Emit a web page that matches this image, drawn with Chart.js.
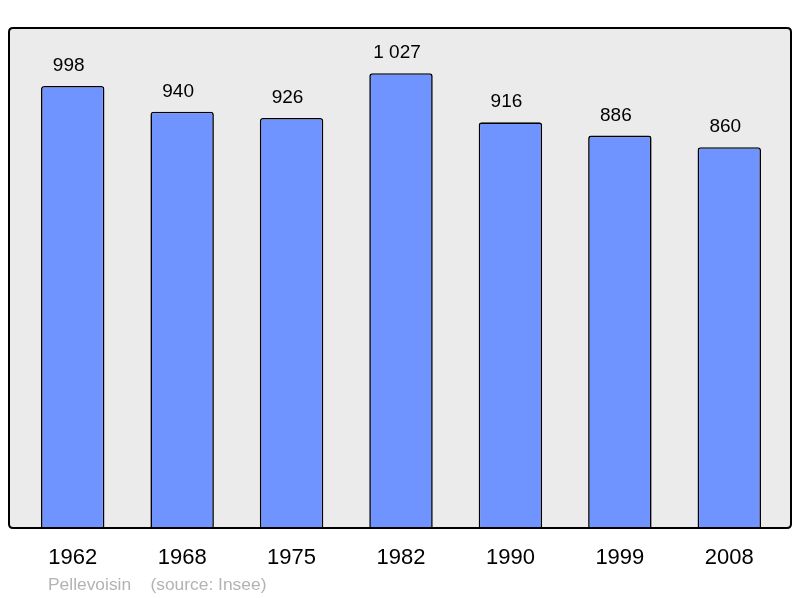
<!DOCTYPE html>
<html>
<head>
<meta charset="utf-8">
<title>Pellevoisin - population</title>
<script src="https://cdn.jsdelivr.net/npm/chart.js@4.4.1/dist/chart.umd.min.js"></script>
<style>
    html, body { margin: 0; padding: 0; background: #ffffff; }
    #wrap { width: 800px; height: 598px; position: relative; }
</style>
</head>
<body>
<div id="wrap"><canvas id="popChart"></canvas></div>
<script>
// Population data (source: Insee)
const years = ['1962', '1968', '1975', '1982', '1990', '1999', '2008'];
const population = [998, 940, 926, 1027, 916, 886, 860];
const valueLabels = ['998', '940', '926', '1 027', '916', '886', '860'];
const sourceText = 'Pellevoisin    (source: Insee)';

const FONT = '"Liberation Sans", Arial, sans-serif';

// Frame behind the bars, border + labels on top
const framePlugin = {
    id: 'frame',
    beforeDatasetsDraw(chart) {
        const { ctx, chartArea } = chart;
        ctx.save();
        roundRect(ctx, chartArea.left - 9, chartArea.top, chartArea.right + 7, chartArea.bottom, 4);
        ctx.fillStyle = '#ebebeb';
        ctx.fill();
        ctx.restore();
    },
    afterDatasetsDraw(chart) {
        const { ctx, chartArea, scales } = chart;
        ctx.save();
        roundRect(ctx, chartArea.left - 9, chartArea.top, chartArea.right + 7, chartArea.bottom, 4);
        ctx.lineWidth = 2;
        ctx.strokeStyle = '#000000';
        ctx.stroke();

        // value labels above each bar
        ctx.fillStyle = '#000000';
        ctx.textAlign = 'center';
        ctx.textBaseline = 'alphabetic';
        ctx.font = '19px ' + FONT;
        years.forEach((y, i) => {
            const x = scales.x.getPixelForValue(i);
            const top = scales.y.getPixelForValue(population[i]);
            ctx.fillText(valueLabels[i], x - 4, top - 15);
        });

        // year labels under the frame
        ctx.font = '22px ' + FONT;
        years.forEach((y, i) => {
            ctx.fillText(y, scales.x.getPixelForValue(i), chartArea.bottom + 36);
        });

        // source line
        ctx.textAlign = 'left';
        ctx.fillStyle = '#b3b3b3';
        ctx.font = '17.4px ' + FONT;
        ctx.fillText(sourceText, 48, chartArea.bottom + 62);
        ctx.restore();
    }
};

function roundRect(ctx, x1, y1, x2, y2, r) {
    ctx.beginPath();
    ctx.moveTo(x1 + r, y1);
    ctx.lineTo(x2 - r, y1);
    ctx.quadraticCurveTo(x2, y1, x2, y1 + r);
    ctx.lineTo(x2, y2 - r);
    ctx.quadraticCurveTo(x2, y2, x2 - r, y2);
    ctx.lineTo(x1 + r, y2);
    ctx.quadraticCurveTo(x1, y2, x1, y2 - r);
    ctx.lineTo(x1, y1 + r);
    ctx.quadraticCurveTo(x1, y1, x1 + r, y1);
    ctx.closePath();
}

new Chart(document.getElementById('popChart'), {
    type: 'bar',
    data: {
        labels: years,
        datasets: [{
            data: population,
            backgroundColor: '#7094ff',
            borderColor: '#000000',
            borderWidth: 1.6,
            borderSkipped: 'bottom',
            borderRadius: { topLeft: 3, topRight: 3 },
            categoryPercentage: 1,
            barPercentage: 0.58
        }]
    },
    options: {
        responsive: true,
        maintainAspectRatio: false,
        animation: false,
        layout: {
            padding: { left: 18, right: 16, top: 28, bottom: 70 }
        },
        plugins: {
            legend: { display: false },
            tooltip: { enabled: false }
        },
        scales: {
            x: { display: false },
            y: { display: false, min: 0, max: 1129 }
        }
    },
    plugins: [framePlugin]
});
</script>
</body>
</html>
